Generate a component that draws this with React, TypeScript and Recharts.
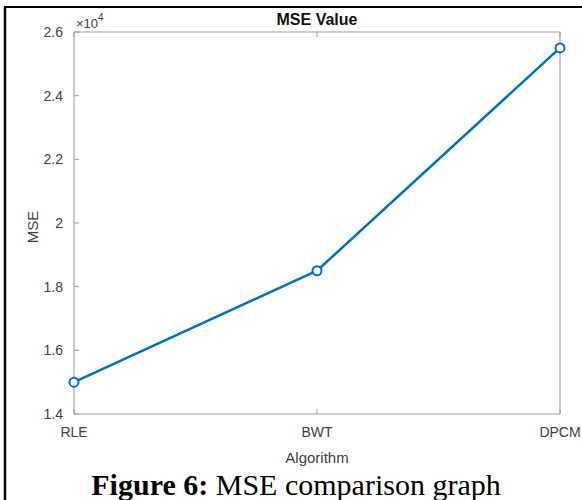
import React from 'react';
import { LineChart, Line, XAxis, YAxis } from 'recharts';

const algorithms = ['RLE', 'BWT', 'DPCM'];
const mseValues = [15000, 18500, 25500];
const yTicks = [14000, 16000, 18000, 20000, 22000, 24000, 26000];
const yDomain = [14000, 26000];

const data = algorithms.map((name, i) => ({ name, mse: mseValues[i] }));

const AXIS = '#9a9a9a';
const TXT = '#404040';
const FONT = '"Liberation Sans", Arial, Helvetica, sans-serif';
const TICK_LEN = 5;
const Y_MARGIN = 11;
const X_MARGIN = 13;

const fmt = (v: number) => String(Math.round((v / 10000) * 10) / 10);

const LeftTick = (props: any) => {
  const { x, y, payload } = props;
  const ax = x + Y_MARGIN;
  return (
    <g>
      <line x1={ax} y1={y} x2={ax + TICK_LEN} y2={y} stroke={AXIS} strokeWidth={1} />
      <text x={x} y={y} dy="0.36em" textAnchor="end" fill={TXT} fontSize={14} fontFamily={FONT}>
        {fmt(payload.value)}
      </text>
    </g>
  );
};

const BottomTick = (props: any) => {
  const { x, y, payload } = props;
  const ay = y - X_MARGIN;
  return (
    <g>
      <line x1={x} y1={ay} x2={x} y2={ay - TICK_LEN} stroke={AXIS} strokeWidth={1} />
      <text x={x} y={y} dy="0.71em" textAnchor="middle" fill={TXT} fontSize={14} fontFamily={FONT}>
        {payload.value}
      </text>
    </g>
  );
};

const RightTick = (props: any) => {
  const { x, y } = props;
  return <line x1={x} y1={y} x2={x - TICK_LEN} y2={y} stroke={AXIS} strokeWidth={1} />;
};

const TopTick = (props: any) => {
  const { x, y } = props;
  return <line x1={x} y1={y} x2={x} y2={y + TICK_LEN} stroke={AXIS} strokeWidth={1} />;
};

export default function App() {
  return (
    <div style={{ position: 'absolute', left: 0, top: 0, width: 582, height: 500, background: '#fff', overflow: 'hidden' }}>
      <LineChart
        width={582}
        height={500}
        data={data}
        margin={{ top: 31, right: 21, bottom: 36, left: 0 }}
      >
        <XAxis
          xAxisId="top"
          dataKey="name"
          orientation="top"
          height={1}
          stroke={AXIS}
          tickLine={false}
          tickSize={0}
          tickMargin={0}
          interval={0}
          tick={<TopTick />}
        />
        <YAxis
          yAxisId="right"
          orientation="right"
          width={1}
          domain={yDomain}
          ticks={yTicks}
          stroke={AXIS}
          tickLine={false}
          tickSize={0}
          tickMargin={0}
          interval={0}
          tick={<RightTick />}
        />
        <XAxis
          dataKey="name"
          height={50}
          stroke={AXIS}
          tickLine={false}
          tickSize={0}
          tickMargin={X_MARGIN}
          interval={0}
          tick={<BottomTick />}
          label={{ value: 'Algorithm', position: 'insideBottom', offset: 1, fill: TXT, fontSize: 15, fontFamily: FONT }}
        />
        <YAxis
          width={74}
          domain={yDomain}
          ticks={yTicks}
          stroke={AXIS}
          tickLine={false}
          tickSize={0}
          tickMargin={Y_MARGIN}
          interval={0}
          tick={<LeftTick />}
          label={{
            content: (props: any) => {
              const vb = props.viewBox || { x: 0, y: 0, width: 0, height: 0 };
              const cx = vb.x + 32;
              const cy = vb.y + vb.height / 2 + 4;
              return (
                <text
                  x={cx}
                  y={cy}
                  transform={`rotate(-90, ${cx}, ${cy})`}
                  textAnchor="middle"
                  dominantBaseline="central"
                  fill={TXT}
                  fontSize={15}
                  fontFamily={FONT}
                >
                  MSE
                </text>
              );
            },
          }}
        />
        <Line
          type="linear"
          dataKey="mse"
          stroke="#0072BD"
          strokeWidth={2.5}
          dot={{ r: 4.5, stroke: '#0072BD', strokeWidth: 2, fill: '#fff' }}
          activeDot={false}
          isAnimationActive={false}
        />
      </LineChart>
      <svg width={582} height={500} style={{ position: 'absolute', left: 0, top: 0, pointerEvents: 'none' }}>
        <line x1={5} y1={7} x2={5} y2={500} stroke="#000" strokeWidth={2.5} />
        <line x1={4} y1={7} x2={582} y2={7} stroke="#000" strokeWidth={2} />
        <text x={317} y={25} textAnchor="middle" fontFamily={FONT} fontWeight="bold" fontSize={16} fill="#111">
          MSE Value
        </text>
        <text x={76} y={28} fontFamily={FONT} fontSize={13} fill={TXT}>
          ×10
          <tspan dy={-7} fontSize={10}>4</tspan>
        </text>
        <text x={296} y={495} textAnchor="middle" fontFamily='"Liberation Serif", "Times New Roman", serif' fontSize={30} fill="#000">
          <tspan fontWeight="bold">Figure 6:</tspan> MSE comparison graph
        </text>
      </svg>
    </div>
  );
}
